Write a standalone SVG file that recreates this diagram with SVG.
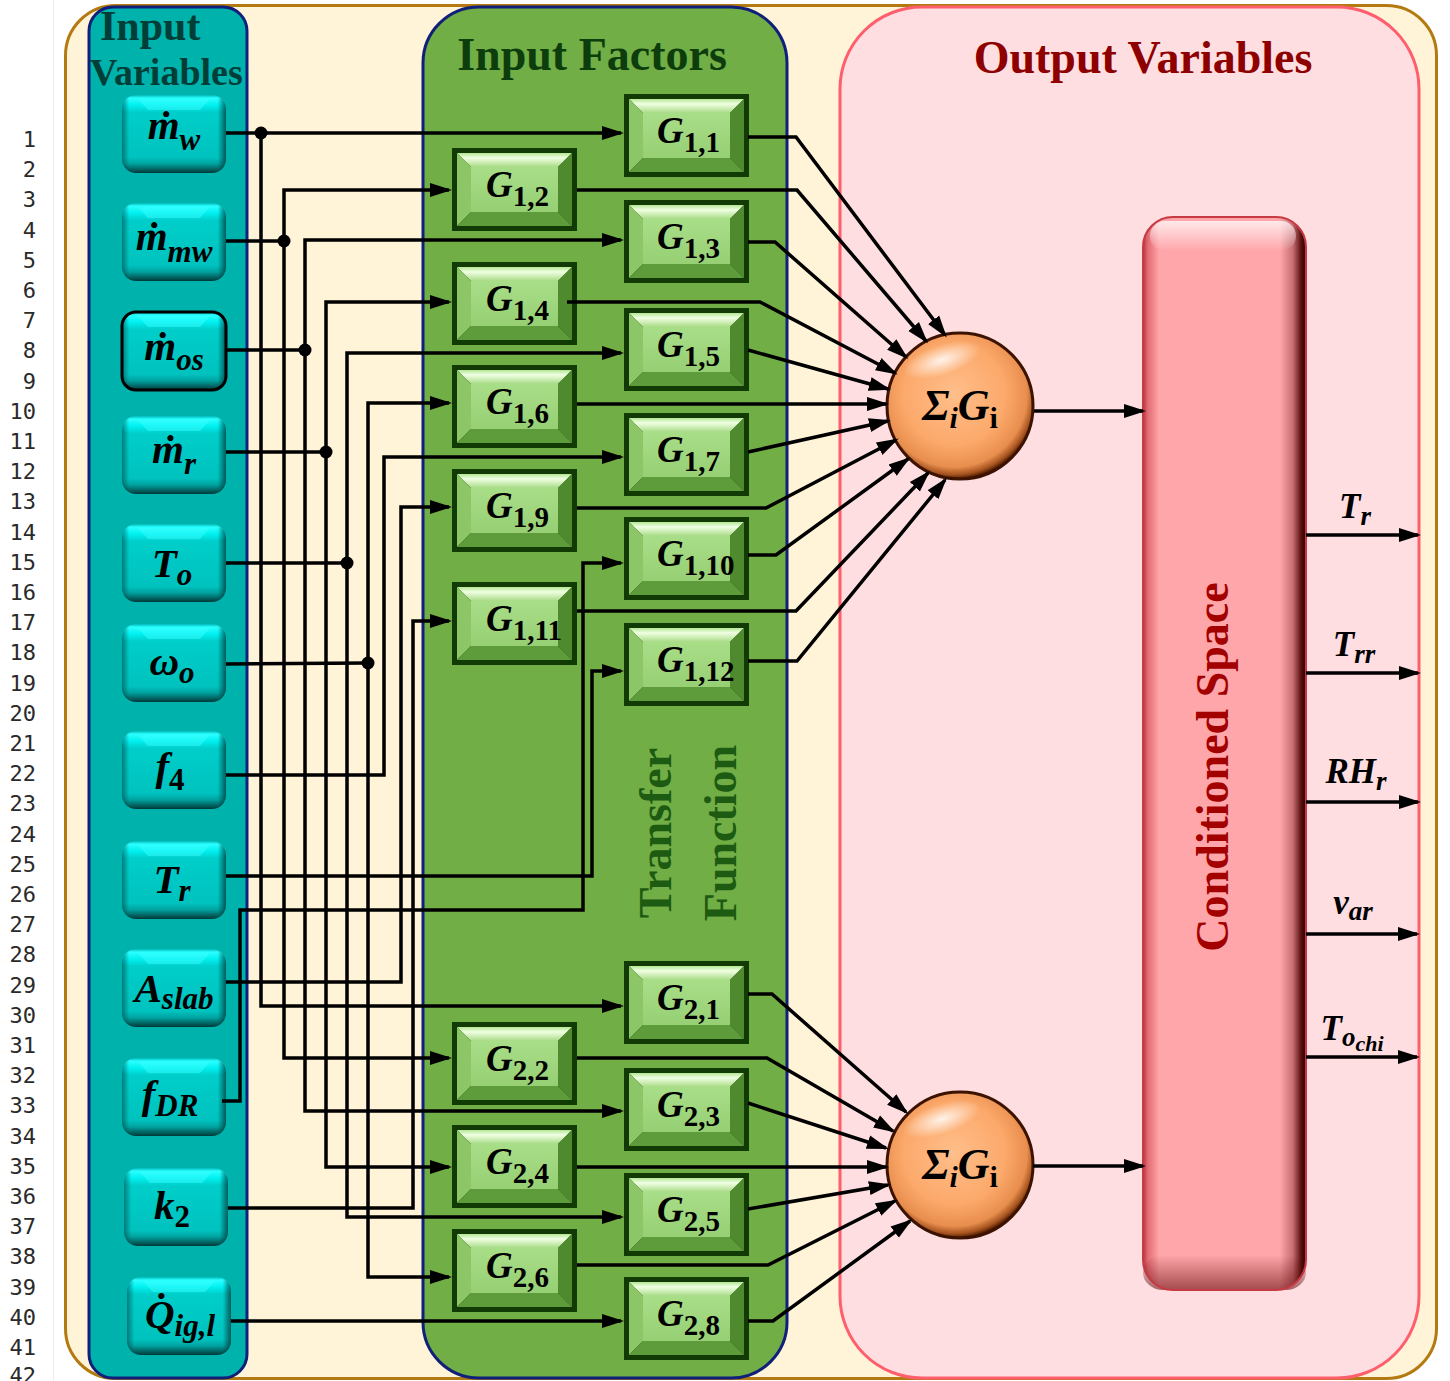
<svg xmlns="http://www.w3.org/2000/svg" width="1450" height="1381" viewBox="0 0 1450 1381">
<defs>
<style>
.wire{fill:none;stroke:#000;stroke-width:3.5;stroke-linejoin:miter}
.arw{marker-end:url(#ah)}
.dot{fill:#000}
.ln{font-family:"DejaVu Sans Mono","Liberation Mono",monospace;font-size:22px;fill:#2a2a2a;text-anchor:end}
.ttl{font-family:"Liberation Serif","Times New Roman",serif;font-weight:bold}
.mx{font-family:"Liberation Serif","Times New Roman",serif;font-weight:bold;font-style:italic;fill:#000}
.vl{font-size:41px}
.vs{font-size:31px}
.gl{font-size:37px}
.gs{font-size:29px;font-style:normal}
.up{font-style:normal}
.ol{font-size:35px}
.os{font-size:27px}
.oss{font-size:22px}
.sg{font-size:44px}
.ss{font-size:30px}
</style>
<marker id="ah" markerUnits="userSpaceOnUse" markerWidth="22" markerHeight="16" refX="19" refY="8" orient="auto"><path d="M0,1 L22,8 L0,15 Z" fill="#000"/></marker>
<linearGradient id="tealV" x1="0" y1="0" x2="0" y2="1">
<stop offset="0" stop-color="#00B8B8"/>
<stop offset="0.04" stop-color="#2AFFFF"/>
<stop offset="0.13" stop-color="#00F0F0"/>
<stop offset="0.22" stop-color="#00CECA"/>
<stop offset="0.8" stop-color="#00C2BE"/>
<stop offset="0.88" stop-color="#00A3A0"/>
<stop offset="0.95" stop-color="#006664"/>
<stop offset="1" stop-color="#003838"/>
</linearGradient>
<linearGradient id="tealH" x1="0" y1="0" x2="1" y2="0">
<stop offset="0" stop-color="#003C3C" stop-opacity="0.55"/>
<stop offset="0.07" stop-color="#003C3C" stop-opacity="0"/>
<stop offset="0.92" stop-color="#002C2C" stop-opacity="0"/>
<stop offset="1" stop-color="#002C2C" stop-opacity="0.7"/>
</linearGradient>
<linearGradient id="gTop" x1="0" y1="0" x2="0" y2="1">
<stop offset="0" stop-color="#B4E694"/>
<stop offset="0.35" stop-color="#F0FFE2"/>
<stop offset="1" stop-color="#A8DB86"/>
</linearGradient>
<linearGradient id="gFace" x1="0" y1="0" x2="0" y2="1">
<stop offset="0" stop-color="#A9DE88"/>
<stop offset="1" stop-color="#96CF74"/>
</linearGradient>
<radialGradient id="orb" cx="0.46" cy="0.42" r="0.58">
<stop offset="0" stop-color="#FFBE8A"/>
<stop offset="0.6" stop-color="#FCA96B"/>
<stop offset="0.86" stop-color="#E88E4E"/>
<stop offset="0.95" stop-color="#A4521E"/>
<stop offset="1" stop-color="#4E1A00"/>
</radialGradient>
<radialGradient id="hlt" cx="0.5" cy="0.5" r="0.5">
<stop offset="0" stop-color="#FFFFFF" stop-opacity="0.85"/>
<stop offset="1" stop-color="#FFFFFF" stop-opacity="0"/>
</radialGradient>
<linearGradient id="csH" x1="0" y1="0" x2="1" y2="0">
<stop offset="0" stop-color="#B8343C"/>
<stop offset="0.03" stop-color="#E26C74"/>
<stop offset="0.1" stop-color="#FFA6AA"/>
<stop offset="0.84" stop-color="#FFA6AA"/>
<stop offset="0.92" stop-color="#C66C72"/>
<stop offset="0.97" stop-color="#5A1010"/>
<stop offset="1" stop-color="#2A0000"/>
</linearGradient>
<linearGradient id="csT" x1="0" y1="0" x2="0" y2="1">
<stop offset="0" stop-color="#FFFFFF" stop-opacity="0.75"/>
<stop offset="1" stop-color="#FFFFFF" stop-opacity="0"/>
</linearGradient>
<linearGradient id="csB" x1="0" y1="0" x2="0" y2="1">
<stop offset="0" stop-color="#5A0000" stop-opacity="0"/>
<stop offset="1" stop-color="#5A0000" stop-opacity="0.55"/>
</linearGradient>
<!-- bevelled green transfer-function block, 125 x 83 -->
<g id="gb">
<rect width="125" height="83" fill="#123A05"/>
<polygon points="5,5 120,5 106,19 19,19" fill="url(#gTop)"/>
<polygon points="5,5 19,19 19,64 5,78" fill="#8CC667"/>
<polygon points="120,5 120,78 106,64 106,19" fill="#4F8A2E"/>
<polygon points="5,78 19,64 106,64 120,78" fill="#5E9B3B"/>
<rect x="19" y="19" width="87" height="45" fill="url(#gFace)"/>
</g>
<!-- rounded teal input button, 104 x 78 -->
<g id="tb">
<rect width="104" height="78" rx="14" fill="url(#tealV)"/>
<rect width="104" height="78" rx="14" fill="url(#tealH)"/>
<path d="M16,4 H88 L78,15 H26 Z" fill="#40FFFF" opacity="0.45"/>
</g>
</defs>

<!-- page -->
<rect width="1450" height="1381" fill="#FFFFFF"/>
<line x1="53.5" y1="0" x2="53.5" y2="1381" stroke="#EDEDED" stroke-width="1"/>

<!-- line numbers -->
<g id="line-numbers" class="ln">
<text x="36" y="147">1</text><text x="36" y="177.2">2</text><text x="36" y="207.4">3</text><text x="36" y="237.6">4</text><text x="36" y="267.8">5</text><text x="36" y="298">6</text><text x="36" y="328.2">7</text><text x="36" y="358.4">8</text><text x="36" y="388.6">9</text><text x="36" y="418.8">10</text><text x="36" y="449">11</text><text x="36" y="479.2">12</text><text x="36" y="509.4">13</text><text x="36" y="539.6">14</text><text x="36" y="569.8">15</text><text x="36" y="600">16</text><text x="36" y="630.2">17</text><text x="36" y="660.4">18</text><text x="36" y="690.6">19</text><text x="36" y="720.8">20</text><text x="36" y="751">21</text><text x="36" y="781.2">22</text><text x="36" y="811.4">23</text><text x="36" y="841.6">24</text><text x="36" y="871.8">25</text><text x="36" y="902">26</text><text x="36" y="932.2">27</text><text x="36" y="962.4">28</text><text x="36" y="992.6">29</text><text x="36" y="1022.8">30</text><text x="36" y="1053">31</text><text x="36" y="1083.2">32</text><text x="36" y="1113.4">33</text><text x="36" y="1143.6">34</text><text x="36" y="1173.8">35</text><text x="36" y="1204">36</text><text x="36" y="1234.2">37</text><text x="36" y="1264.4">38</text><text x="36" y="1294.6">39</text><text x="36" y="1324.8">40</text><text x="36" y="1355">41</text><text x="36" y="1383">42</text>
</g>

<!-- background panels -->
<g id="frame">
<rect x="65.5" y="5.5" width="1371" height="1373" rx="50" fill="#FFF3D8" stroke="#B47A12" stroke-width="3"/>
</g>
<g id="panel-input-variables">
<rect x="89" y="7" width="158" height="1371" rx="24" fill="#00B2AC" stroke="#10207A" stroke-width="3"/>
<text class="ttl" x="100" y="40" font-size="42" fill="#013E38">Input</text>
<text class="ttl" x="90" y="85" font-size="38" fill="#013E38">Variables</text>
</g>
<g id="panel-input-factors">
<rect x="423" y="7" width="364" height="1371" rx="56" fill="#71AE45" stroke="#10207A" stroke-width="3"/>
<text class="ttl" x="592" y="70" font-size="46" fill="#0D3D0D" text-anchor="middle">Input Factors</text>
<text class="ttl" transform="translate(671,833) rotate(-90)" font-size="46" fill="#1D5A12" text-anchor="middle">Transfer</text>
<text class="ttl" transform="translate(736,833) rotate(-90)" font-size="46" fill="#1D5A12" text-anchor="middle">Function</text>
</g>
<g id="panel-output-variables">
<rect x="840" y="7" width="579" height="1371" rx="82" fill="#FFDEE1" stroke="#FF5E6C" stroke-width="3"/>
<text class="ttl" x="1143" y="73" font-size="46" fill="#8E0000" text-anchor="middle">Output Variables</text>
</g>

<!-- input variables -->
<g id="in-mw"><use href="#tb" x="122" y="95"/><text class="mx vl" x="174" y="139" text-anchor="middle">ṁ<tspan class="vs" dy="11">w</tspan></text></g>
<g id="in-mmw"><use href="#tb" x="122" y="203"/><text class="mx vl" x="174" y="250" text-anchor="middle">ṁ<tspan class="vs" dy="12">mw</tspan></text></g>
<g id="in-mos"><use href="#tb" x="122" y="312"/><rect x="122" y="312" width="104" height="78" rx="14" fill="none" stroke="#000" stroke-width="3"/><text class="mx vl" x="174" y="360" text-anchor="middle">ṁ<tspan class="vs" dy="10">os</tspan></text></g>
<g id="in-mr"><use href="#tb" x="122" y="416"/><text class="mx vl" x="174" y="463" text-anchor="middle">ṁ<tspan class="vs" dy="11">r</tspan></text></g>
<g id="in-To"><use href="#tb" x="122" y="524"/><text class="mx vl" x="172" y="577" text-anchor="middle">T<tspan class="vs" dy="8">o</tspan></text></g>
<g id="in-wo"><use href="#tb" x="122" y="624"/><text class="mx vl" x="172" y="675" text-anchor="middle">ω<tspan class="vs" dy="8">o</tspan></text></g>
<g id="in-f4"><use href="#tb" x="122" y="731"/><text class="mx vl" x="170" y="780" text-anchor="middle">f<tspan class="vs up" dy="10">4</tspan></text></g>
<g id="in-Tr"><use href="#tb" x="122" y="841"/><text class="mx vl" x="172" y="893" text-anchor="middle">T<tspan class="vs" dy="8">r</tspan></text></g>
<g id="in-Aslab"><use href="#tb" x="122" y="949"/><text class="mx vl" x="174" y="1002" text-anchor="middle">A<tspan class="vs" dy="7">slab</tspan></text></g>
<g id="in-fDR"><use href="#tb" x="122" y="1058"/><text class="mx vl" x="170" y="1108" text-anchor="middle">f<tspan class="vs" dy="8">DR</tspan></text></g>
<g id="in-k2"><use href="#tb" x="124" y="1168"/><text class="mx vl" x="172" y="1219" text-anchor="middle">k<tspan class="vs up" dy="8">2</tspan></text></g>
<g id="in-Qig"><use href="#tb" x="127" y="1277"/><text class="mx vl" x="180" y="1328" text-anchor="middle">Q̇<tspan class="vs" dy="8">ig,l</tspan></text></g>

<!-- transfer-function blocks -->
<g id="G11"><use href="#gb" x="624" y="94"/><text class="mx gl" x="657" y="143">G<tspan class="gs" dy="9">1,1</tspan></text></g>
<g id="G12"><use href="#gb" x="452" y="148"/><text class="mx gl" x="486" y="197">G<tspan class="gs" dy="9">1,2</tspan></text></g>
<g id="G13"><use href="#gb" x="624" y="200"/><text class="mx gl" x="657" y="249">G<tspan class="gs" dy="9">1,3</tspan></text></g>
<g id="G14"><use href="#gb" x="452" y="262"/><text class="mx gl" x="486" y="311">G<tspan class="gs" dy="9">1,4</tspan></text></g>
<g id="G15"><use href="#gb" x="624" y="308"/><text class="mx gl" x="657" y="357">G<tspan class="gs" dy="9">1,5</tspan></text></g>
<g id="G16"><use href="#gb" x="452" y="365"/><text class="mx gl" x="486" y="414">G<tspan class="gs" dy="9">1,6</tspan></text></g>
<g id="G17"><use href="#gb" x="624" y="413"/><text class="mx gl" x="657" y="462">G<tspan class="gs" dy="9">1,7</tspan></text></g>
<g id="G19"><use href="#gb" x="452" y="469"/><text class="mx gl" x="486" y="518">G<tspan class="gs" dy="9">1,9</tspan></text></g>
<g id="G110"><use href="#gb" x="624" y="517"/><text class="mx gl" x="657" y="566">G<tspan class="gs" dy="9">1,10</tspan></text></g>
<g id="G111"><use href="#gb" x="452" y="582"/><text class="mx gl" x="486" y="631">G<tspan class="gs" dy="9">1,11</tspan></text></g>
<g id="G112"><use href="#gb" x="624" y="623"/><text class="mx gl" x="657" y="672">G<tspan class="gs" dy="9">1,12</tspan></text></g>
<g id="G21"><use href="#gb" x="624" y="961"/><text class="mx gl" x="657" y="1010">G<tspan class="gs" dy="9">2,1</tspan></text></g>
<g id="G22"><use href="#gb" x="452" y="1022"/><text class="mx gl" x="486" y="1071">G<tspan class="gs" dy="9">2,2</tspan></text></g>
<g id="G23"><use href="#gb" x="624" y="1068"/><text class="mx gl" x="657" y="1117">G<tspan class="gs" dy="9">2,3</tspan></text></g>
<g id="G24"><use href="#gb" x="452" y="1125"/><text class="mx gl" x="486" y="1174">G<tspan class="gs" dy="9">2,4</tspan></text></g>
<g id="G25"><use href="#gb" x="624" y="1173"/><text class="mx gl" x="657" y="1222">G<tspan class="gs" dy="9">2,5</tspan></text></g>
<g id="G26"><use href="#gb" x="452" y="1229"/><text class="mx gl" x="486" y="1278">G<tspan class="gs" dy="9">2,6</tspan></text></g>
<g id="G28"><use href="#gb" x="624" y="1277"/><text class="mx gl" x="657" y="1326">G<tspan class="gs" dy="9">2,8</tspan></text></g>

<!-- summing junctions -->
<g id="sum-1" transform="translate(960,406)">
<circle r="73" fill="url(#orb)" stroke="#3C1200" stroke-width="3"/>
<ellipse cx="-18" cy="-46" rx="40" ry="15" transform="rotate(-18 -18 -46)" fill="url(#hlt)"/>
<text class="mx sg" x="0" y="14" text-anchor="middle">Σ<tspan class="ss" dy="8">i</tspan><tspan dy="-8">G</tspan><tspan class="ss up" dy="8">i</tspan></text>
</g>
<g id="sum-2" transform="translate(960,1165)">
<circle r="73" fill="url(#orb)" stroke="#3C1200" stroke-width="3"/>
<ellipse cx="-18" cy="-46" rx="40" ry="15" transform="rotate(-18 -18 -46)" fill="url(#hlt)"/>
<text class="mx sg" x="0" y="14" text-anchor="middle">Σ<tspan class="ss" dy="8">i</tspan><tspan dy="-8">G</tspan><tspan class="ss up" dy="8">i</tspan></text>
</g>

<!-- conditioned space -->
<g id="conditioned-space">
<rect x="1143" y="217" width="163" height="1073" rx="30" fill="url(#csH)"/>
<rect x="1150" y="221" width="146" height="30" rx="15" fill="url(#csT)"/>
<rect x="1143" y="1255" width="163" height="35" rx="20" fill="url(#csB)"/>
<rect x="1143" y="217" width="163" height="1073" rx="30" fill="none" stroke="#C63A44" stroke-width="2"/>
<text class="ttl" transform="translate(1228,767) rotate(-90)" font-size="46" fill="#A30000" text-anchor="middle">Conditioned Space</text>
</g>

<!-- connectors -->
<g id="connectors">
<!-- input variables to transfer blocks -->
<path class="wire arw" d="M226,133 H621"/>
<path class="wire arw" d="M261,133 V1006 H621"/>
<path class="wire" d="M226,241 H284"/>
<path class="wire arw" d="M284,241 V190 H449"/>
<path class="wire arw" d="M284,241 V1058 H449"/>
<path class="wire" d="M226,350 H305"/>
<path class="wire arw" d="M305,350 V240 H621"/>
<path class="wire arw" d="M305,350 V1111 H621"/>
<path class="wire" d="M226,452 H326"/>
<path class="wire arw" d="M326,452 V302 H449"/>
<path class="wire arw" d="M326,452 V1167 H449"/>
<path class="wire" d="M226,563 H347"/>
<path class="wire arw" d="M347,563 V353 H621"/>
<path class="wire arw" d="M347,563 V1217 H621"/>
<path class="wire" d="M226,664 L368,663"/>
<path class="wire arw" d="M368,663 V403 H449"/>
<path class="wire arw" d="M368,663 V1277 H449"/>
<path class="wire arw" d="M226,775 H384 V457 H621"/>
<path class="wire arw" d="M226,876 H592 V671 H621"/>
<path class="wire arw" d="M226,982 H401 V507 H449"/>
<path class="wire arw" d="M222,1101 H240 V910 H583 V563 H621"/>
<path class="wire arw" d="M228,1208 H413 V621 H449"/>
<path class="wire arw" d="M231,1321 H621"/>
<circle class="dot" cx="261" cy="133" r="6.5"/>
<circle class="dot" cx="284" cy="241" r="6.5"/>
<circle class="dot" cx="305" cy="350" r="6.5"/>
<circle class="dot" cx="326" cy="452" r="6.5"/>
<circle class="dot" cx="347" cy="563" r="6.5"/>
<circle class="dot" cx="368" cy="663" r="6.5"/>
<!-- transfer blocks to first sum -->
<path class="wire arw" d="M748,137 H796 L945,335"/>
<path class="wire arw" d="M577,190 H797 L926,341"/>
<path class="wire arw" d="M748,242 H775 L906,357"/>
<path class="wire arw" d="M567,302 H760 L895,373"/>
<path class="wire arw" d="M748,350 L888,389"/>
<path class="wire arw" d="M577,404 H886"/>
<path class="wire arw" d="M748,452 L888,421"/>
<path class="wire arw" d="M577,508 H766 L896,440"/>
<path class="wire arw" d="M748,555 H776 L908,459"/>
<path class="wire arw" d="M577,611 H796 L928,473"/>
<path class="wire arw" d="M748,661 H797 L945,480"/>
<!-- transfer blocks to second sum -->
<path class="wire arw" d="M748,994 H772 L906,1112"/>
<path class="wire arw" d="M577,1058 H767 L893,1131"/>
<path class="wire arw" d="M748,1103 L886,1148"/>
<path class="wire arw" d="M577,1167 H886"/>
<path class="wire arw" d="M748,1209 L888,1185"/>
<path class="wire arw" d="M577,1265 H768 L895,1201"/>
<path class="wire arw" d="M748,1321 H773 L910,1221"/>
<!-- sums to conditioned space -->
<path class="wire arw" d="M1034,411 H1143"/>
<path class="wire arw" d="M1033,1166 H1143"/>
<!-- outputs -->
<path class="wire arw" d="M1306,535 H1418"/>
<path class="wire arw" d="M1306,673 H1418"/>
<path class="wire arw" d="M1306,802 H1418"/>
<path class="wire arw" d="M1306,934 H1417"/>
<path class="wire arw" d="M1306,1057 H1417"/>
</g>

<!-- output labels -->
<g id="output-labels">
<text class="mx ol" x="1355" y="518" text-anchor="middle">T<tspan class="os" dy="7">r</tspan></text>
<text class="mx ol" x="1354" y="656" text-anchor="middle">T<tspan class="os" dy="7">rr</tspan></text>
<text class="mx ol" x="1356" y="783" text-anchor="middle">RH<tspan class="os" dy="7">r</tspan></text>
<text class="mx ol" x="1353" y="914" text-anchor="middle">v<tspan class="os" dy="6">ar</tspan></text>
<text class="mx ol" x="1352" y="1040" text-anchor="middle">T<tspan class="os" dy="6">o</tspan><tspan class="oss" dy="5">chi</tspan></text>
</g>
</svg>
